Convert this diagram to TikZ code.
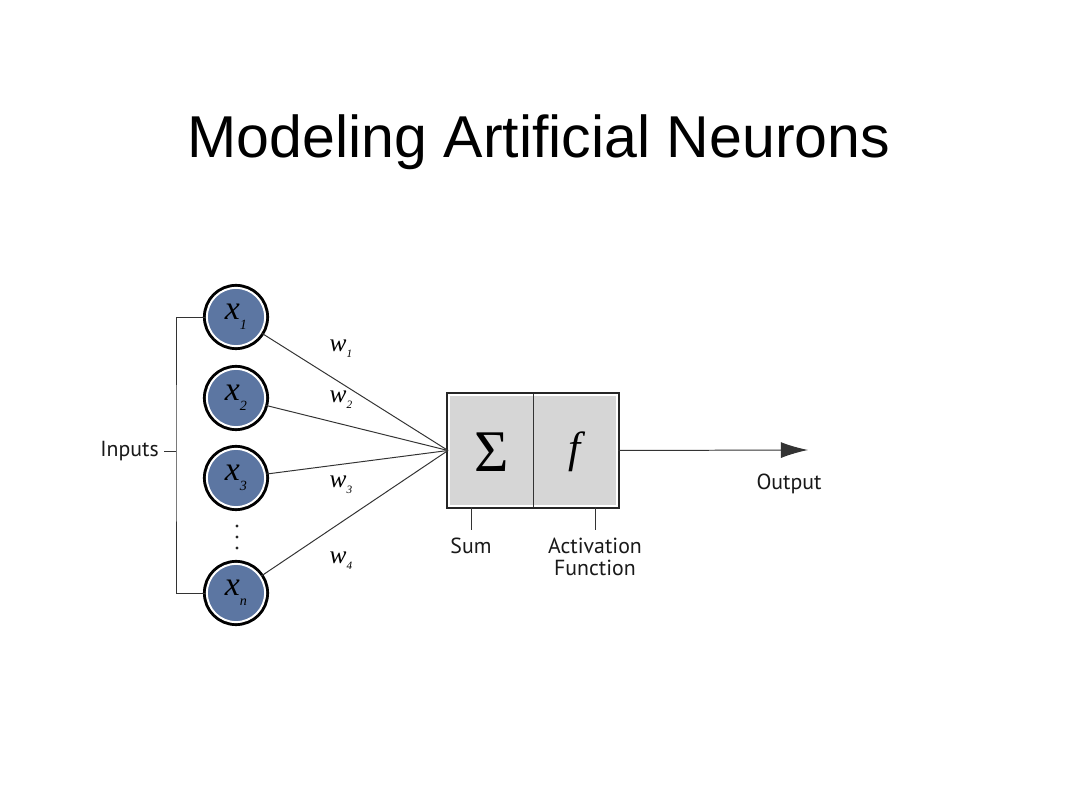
\documentclass[tikz,border=0pt]{standalone}
\usepackage{fontspec}
\setmainfont{Liberation Sans}
\newfontfamily\lblfont{PT Sans}
\newfontfamily\timesfont{Liberation Serif}
\usepackage{xcolor}
\usepackage{tikz}
\usetikzlibrary{positioning,arrows.meta}

\definecolor{nblue}{RGB}{92,118,162}
\definecolor{boxgray}{RGB}{214,214,214}

\begin{document}
\begin{tikzpicture}[
  x=0.025cm, y=-0.025cm,
  lbl/.style={font=\lblfont\fontsize{15.5}{15.5}\selectfont,text=black!90,inner sep=0pt,align=center},
  inp/.style={circle,fill=nblue,draw=white,line width=1.4pt,minimum size=41.4pt,inner sep=0pt,
    preaction={draw=black,line width=5.6pt},font=\timesfont\itshape},
  wt/.style={font=\timesfont\itshape\fontsize{18}{18}\selectfont,inner sep=0pt},
  wire/.style={draw=black!80,line width=0.7pt},
  unit/.style={rectangle,fill=boxgray,draw=white,line width=1.4pt,
    preaction={draw=black!85,line width=4pt},minimum width=4.2cm,minimum height=2.775cm}
]
  \useasboundingbox (0,0) rectangle (1080,799);

  \node[anchor=base,font=\fontsize{42}{42}\selectfont] (title) at (539,158) {Modeling Artificial Neurons};

  % inputs
  \node[inp] (x1) at (236,317) {{\fontsize{24}{24}\selectfont x}\raisebox{-7pt}{\fontsize{10}{10}\selectfont 1}};
  \node[inp] (x2) at (236,398) {{\fontsize{24}{24}\selectfont x}\raisebox{-7pt}{\fontsize{10}{10}\selectfont 2}};
  \node[inp] (x3) at (236,478) {{\fontsize{24}{24}\selectfont x}\raisebox{-7pt}{\fontsize{10}{10}\selectfont 3}};
  \node[inp] (xn) at (236,593) {{\fontsize{24}{24}\selectfont x}\raisebox{-7pt}{\fontsize{10}{10}\selectfont n}};
  \foreach \y in {526,537,548} \fill[black!85] (237,\y) circle (1.6);

  \node[lbl,anchor=east] (inputs) at (159,451) {Inputs};
  \coordinate (brk) at (176,451);
  \draw[wire] (x1.west) -| (brk) |- (xn.west);
  \draw[wire] (inputs.east) ++(5,0) -- (brk);

  % neuron
  \node[unit] (neuron) at (533,450.5) {};
  \draw[wire] (neuron.north) -- (neuron.south);
  \node[font=\timesfont\fontsize{42}{42}\selectfont] (sigma) at (492,452) {Σ};
  \node[font=\timesfont\itshape\fontsize{31}{31}\selectfont] (act) at (575,452) {f};

  \draw[wire] (x1) -- (neuron.west);
  \draw[wire] (x2) -- (neuron.west);
  \draw[wire] (x3) -- (neuron.west);
  \draw[wire] (xn) -- (neuron.west);

  \node[wt] (w1) at (341,349) {w\raisebox{-4pt}{\fontsize{8}{8}\selectfont 1}};
  \node[wt] (w2) at (341,400) {w\raisebox{-4pt}{\fontsize{8}{8}\selectfont 2}};
  \node[wt] (w3) at (341,485) {w\raisebox{-4pt}{\fontsize{8}{8}\selectfont 3}};
  \node[wt] (w4) at (341,561) {w\raisebox{-4pt}{\fontsize{8}{8}\selectfont 4}};

  % labels below
  \node[lbl,anchor=north,outer sep=5.7pt] (sum) at (471,530) {Sum};
  \node[lbl,anchor=north,outer sep=5.7pt] (actfn) at (595,530) {Activation\\Function};
  \draw[wire] (neuron.south -| sum.north) -- (sum.north);
  \draw[wire] (neuron.south -| actfn.north) -- (actfn.north);

  % output
  \coordinate (out) at (808,450);
  \draw[wire,-{Latex[length=0.68cm,width=0.4cm,fill=black!80]}] (neuron.east) -- (out);
  \node[lbl] (output) at (789,484) {Output};
\end{tikzpicture}
\end{document}
